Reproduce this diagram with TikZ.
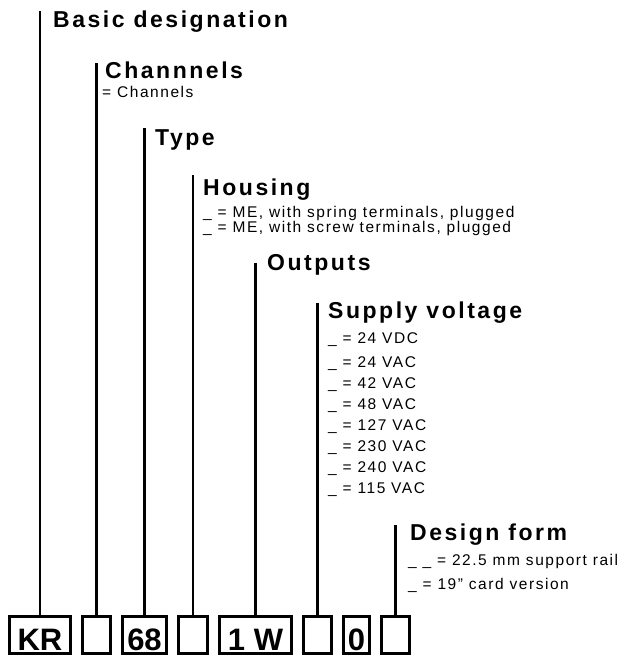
\documentclass[tikz,border=0pt]{standalone}
\usepackage{fontspec}
\setmainfont{Liberation Sans}
\usetikzlibrary{positioning}

\begin{document}
\begin{tikzpicture}[x=1pt,y=-1pt,
  head/.style={anchor=base west,inner sep=0pt,
               font=\fontsize{23}{23}\selectfont\bfseries\addfontfeature{LetterSpace=11}},
  opt/.style={anchor=base west,inner sep=0pt,
              font=\fontsize{15.5}{15.5}\selectfont\addfontfeature{LetterSpace=10}},
  cell/.style={draw,line width=2.6pt,minimum height=37.4pt,inner sep=0pt,
               text height=30pt,text depth=0pt,
               font=\fontsize{31}{31}\selectfont\bfseries},
  stem/.style={line width=2.7pt}
]
  \useasboundingbox (0,0) rectangle (626,657);

  % type code boxes
  \node[cell,minimum width=61.4pt] (kr) at (40,635) {KR};
  \node[cell,minimum width=28.4pt,right=9pt of kr] (chanbox) {};
  \node[cell,minimum width=44.4pt,right=9pt of chanbox] (typebox) {68};
  \node[cell,minimum width=29.4pt,right=9pt of typebox] (housbox) {};
  \node[cell,minimum width=72.4pt,right=9pt of housbox] (outbox) {1 W};
  \node[cell,minimum width=28.4pt,right=9pt of outbox] (suppbox) {};
  \node[cell,minimum width=26.4pt,right=9pt of suppbox] (zerobox) {0};
  \node[cell,minimum width=28.4pt,right=9pt of zerobox] (formbox) {};

  % headings
  \node[head] (basic) at (53,27) {Basic designation};
  \node[head] (chan) at (105,78) {Channnels};
  \node[opt] (chan1) at (102,97) {= Channels};
  \node[head] (type) at (155,145) {Type};
  \node[head] (hous) at (203,195) {Housing};
  \node[opt] (hous1) at (203,217) {\_ = ME, with spring terminals, plugged};
  \node[opt] (hous2) at (203,232) {\_ = ME, with screw terminals, plugged};
  \node[head] (outp) at (267,270) {Outputs};
  \node[head] (supp) at (328,318) {Supply voltage};
  \foreach \v/\y [count=\i] in {24 VDC/343,24 VAC/367,42 VAC/388,48 VAC/409,
                                127 VAC/430,230 VAC/451,240 VAC/472,115 VAC/493}
    \node[opt] (supp\i) at (328,\y) {\_ = \v};
  \node[head] (form) at (410,540) {Design form};
  \node[opt] (form1) at (408,565) {\_ \_ = 22.5 mm support rail};
  \node[opt] (form2) at (408,589) {\_ = 19” card version};

  % stems
  \coordinate (tbasic) at (42,11);
  \coordinate (tchan) at (97,63);
  \coordinate (ttype) at (144,128);
  \coordinate (thous) at (194,175);
  \coordinate (toutp) at (256,263);
  \coordinate (tsupp) at (318,303);
  \coordinate (tform) at (396,525);
  \draw[stem] (kr.north) -- (kr.north |- tbasic);
  \draw[stem] (chanbox.north) -- (chanbox.north |- tchan);
  \draw[stem] (typebox.north) -- (typebox.north |- ttype);
  \draw[stem] (housbox.north) -- (housbox.north |- thous);
  \draw[stem] (outbox.north) -- (outbox.north |- toutp);
  \draw[stem] (suppbox.north) -- (suppbox.north |- tsupp);
  \draw[stem] (formbox.north) -- (formbox.north |- tform);
\end{tikzpicture}
\end{document}
